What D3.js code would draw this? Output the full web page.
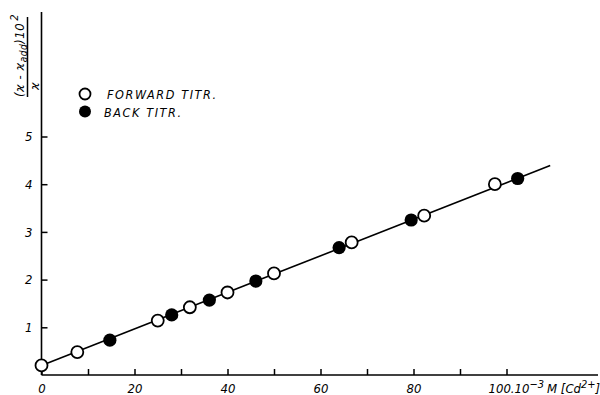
<!DOCTYPE html>
<html><head><meta charset="utf-8">
<script src="https://cdn.jsdelivr.net/npm/d3@7"></script>
<style>
body{margin:0;background:#fff;}
svg{display:block;}
text{font-family:"Liberation Sans Narrow","DejaVu Sans Condensed",sans-serif;font-style:italic;fill:#000;}
</style></head>
<body>
<svg id="c" width="600" height="395"></svg>
<script>
// ---- data ----
const forwardX = [0, 7.7, 25.0, 31.9, 40.0, 50.0, 66.7, 82.3, 97.5];
const forwardY = [0.20, 0.48, 1.14, 1.42, 1.73, 2.13, 2.78, 3.34, 4.00];
const backX = [14.7, 28.0, 36.1, 46.1, 64.0, 79.5, 102.4];
const backY = [0.73, 1.26, 1.57, 1.97, 2.67, 3.25, 4.12];
const fitX = [0, 109.4];
const fitY = [0.20, 4.39];
const xTicks = [0,10,20,30,40,50,60,70,80,90,100];
const xTickLabels = ["0","","20","","40","","60","","80","",""];
const yTicks = [1,2,3,4,5];
const yTickLabels = ["1","2","3","4","5"];
const legendLabels = ["FORWARD TITR.", "BACK TITR."];

const svg = d3.select("#c");
const x = d3.scaleLinear().domain([0,100]).range([41.5, 506.5]);
const y = d3.scaleLinear().domain([0,5]).range([375, 136.5]);

// x axis
const gx = svg.append("g").attr("transform",`translate(0,${y(0)})`)
  .call(d3.axisBottom(x).tickValues(xTicks).tickSizeInner(-6).tickSizeOuter(0).tickPadding(9)
    .tickFormat((d,i)=>xTickLabels[i]));
gx.select(".domain").remove();
gx.selectAll("line").attr("stroke","#000").attr("stroke-width",1.5);
gx.selectAll("text").attr("font-size",13).attr("font-family",null);
svg.append("line").attr("x1",x(0)).attr("x2",598).attr("y1",y(0)).attr("y2",y(0))
  .attr("stroke","#000").attr("stroke-width",1.6);
// x label at 100
const xl = svg.append("text").attr("x",x(100)-18).attr("y",y(0)+18).attr("font-size",13);
xl.append("tspan").text("100.10");
xl.append("tspan").attr("dy",-5).attr("font-size",11).text("−3");
xl.append("tspan").attr("dy",5).attr("dx",3).text("M [Cd");
xl.append("tspan").attr("dy",-5).attr("font-size",11).text("2+");
xl.append("tspan").attr("dy",5).text("]");

// y axis
const gy = svg.append("g").attr("transform",`translate(${x(0)},0)`)
  .call(d3.axisLeft(y).tickValues(yTicks).tickSizeInner(-6).tickSizeOuter(0).tickPadding(9)
    .tickFormat((d,i)=>yTickLabels[i]));
gy.select(".domain").remove();
gy.selectAll("line").attr("stroke","#000").attr("stroke-width",1.5);
gy.selectAll("text").attr("font-size",13).attr("font-family",null);
svg.append("line").attr("x1",x(0)).attr("x2",x(0)).attr("y1",y(0)).attr("y2",12)
  .attr("stroke","#000").attr("stroke-width",1.6);

// y axis title (fraction, rotated)
const num = svg.append("text").attr("transform","translate(24,97) rotate(-90)")
  .attr("font-size",13).attr("letter-spacing",0.5);
num.append("tspan").text("(ϰ - ϰ");
num.append("tspan").attr("dy",3).attr("font-size",10).text("add");
num.append("tspan").attr("dy",-3).text(")10");
num.append("tspan").attr("dy",-6).attr("dx",2).attr("font-size",11).text("2");
svg.append("line").attr("x1",27.5).attr("x2",27.5).attr("y1",17).attr("y2",97)
  .attr("stroke","#000").attr("stroke-width",1.5);
svg.append("text").attr("transform","translate(39,90) rotate(-90)")
  .attr("font-size",13).text("ϰ");

// fit line
svg.append("path").datum(fitX.map((d,i)=>[d,fitY[i]]))
  .attr("d",d3.line().x(d=>x(d[0])).y(d=>y(d[1])))
  .attr("stroke","#000").attr("stroke-width",1.6).attr("fill","none");

// points
svg.append("g").selectAll("circle").data(forwardX.map((d,i)=>[d,forwardY[i]])).join("circle")
  .attr("cx",d=>x(d[0])).attr("cy",d=>y(d[1])).attr("r",6)
  .attr("fill","#fff").attr("stroke","#000").attr("stroke-width",1.8);
svg.append("g").selectAll("circle").data(backX.map((d,i)=>[d,backY[i]])).join("circle")
  .attr("cx",d=>x(d[0])).attr("cy",d=>y(d[1])).attr("r",6.6)
  .attr("fill","#000");

// legend
const lg = svg.append("g");
lg.append("circle").attr("cx",85).attr("cy",94).attr("r",5.5).attr("fill","#fff").attr("stroke","#000").attr("stroke-width",1.8);
lg.append("circle").attr("cx",85).attr("cy",111.5).attr("r",6).attr("fill","#000");
lg.append("text").attr("x",107).attr("y",99).attr("font-size",12.5).attr("letter-spacing",1.6).text(legendLabels[0]);
lg.append("text").attr("x",104).attr("y",116.5).attr("font-size",12.5).attr("letter-spacing",1.6).text(legendLabels[1]);
</script>
</body></html>
